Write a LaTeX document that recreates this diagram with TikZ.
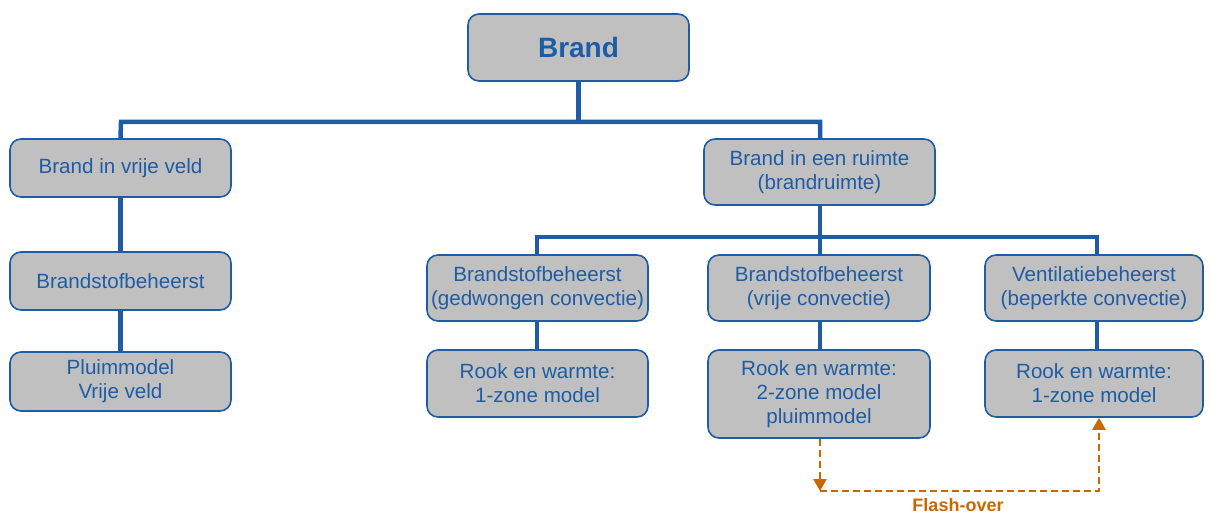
\documentclass[tikz,border=0pt]{standalone}
\usepackage{fontspec}
\setmainfont{Liberation Sans}
\usetikzlibrary{arrows.meta}
\definecolor{blu}{RGB}{30,92,165}
\definecolor{boxgray}{RGB}{192,192,192}
\definecolor{org}{RGB}{204,102,0}
\tikzset{
  box/.style={draw=blu, line width=1.6pt, fill=boxgray, rounded corners=11pt, text=blu, align=center, inner sep=0pt, font=\fontsize{20.6}{24}\selectfont},
  conn/.style={draw=blu, line width=4.5pt},
  flash/.style={draw=org, line width=2.6pt, dash pattern=on 7pt off 4pt, -{Triangle[length=12pt,width=13pt]}},
}
\begin{document}
\begin{tikzpicture}[x=1pt,y=-1pt]
\useasboundingbox (0,0) rectangle (1210,513);
\coordinate (h1l) at (121,122);
\coordinate (h1r) at (820,122);
\coordinate (h2l) at (537,237);
\coordinate (h2r) at (1097,237);
\coordinate (fo) at (820,491);
\coordinate (fr) at (1099,491);
% nodes
\node[box, minimum width=221pt, minimum height=67pt, font=\bfseries\fontsize{28}{32}\selectfont] (brand) at (578.5,47.5) {Brand};
\node[box, minimum width=221pt, minimum height=58pt] (vrij) at (120.5,168) {\raisebox{-3pt}{Brand in vrije veld}};
\node[box, minimum width=221pt, minimum height=58pt] (bsl) at (120.5,281) {\raisebox{-2pt}{Brandstofbeheerst}};
\node[box, minimum width=221pt, minimum height=59pt] (pluim) at (120.5,381.5) {Pluimmodel\\Vrije veld};
\node[box, minimum width=231pt, minimum height=66pt] (ruimte) at (819.5,172) {Brand in een ruimte\\(brandruimte)};
\node[box, minimum width=221pt, minimum height=66pt] (gedw) at (537.5,288) {Brandstofbeheerst\\(gedwongen convectie)};
\node[box, minimum width=222pt, minimum height=66pt] (vrc) at (819,288) {Brandstofbeheerst\\(vrije convectie)};
\node[box, minimum width=218pt, minimum height=66pt] (vent) at (1094,288) {Ventilatiebeheerst\\(beperkte convectie)};
\node[box, minimum width=221pt, minimum height=67pt] (rz1) at (537.5,383.5) {Rook en warmte:\\1-zone model};
\node[box, minimum width=222pt, minimum height=88pt] (rz2) at (819,394) {Rook en warmte:\\2-zone model\\pluimmodel};
\node[box, minimum width=218pt, minimum height=67pt] (rz3) at (1094,383.5) {Rook en warmte:\\1-zone model};
% tree connectors
\draw[conn] (brand.south) -- (brand.south |- h1l);
\draw[conn] (vrij.north) -- (h1l) -- (h1r) -- (ruimte.north -| h1r);
\draw[conn] (vrij) -- (bsl);
\draw[conn] (bsl) -- (pluim);
\draw[conn] (ruimte.south -| h1r) -- (vrc.north -| h1r);
\draw[conn] (gedw.north -| h2l) -- (h2l) -- (h2r) -- (vent.north -| h2r);
\draw[conn] (gedw.south -| h2l) -- (rz1.north -| h2l);
\draw[conn] (vrc.south -| h1r) -- (rz2.north -| h1r);
\draw[conn] (vent.south -| h2r) -- (rz3.north -| h2r);
% flash-over
\draw[flash] (rz2.south -| fo) -- (fo);
\draw[flash] (fo) -- (fr) -- (rz3.south -| fr);
\node[text=org, font=\bfseries\fontsize{18}{20}\selectfont, anchor=base] (flt) at (958,511) {Flash-over};
\end{tikzpicture}
\end{document}
